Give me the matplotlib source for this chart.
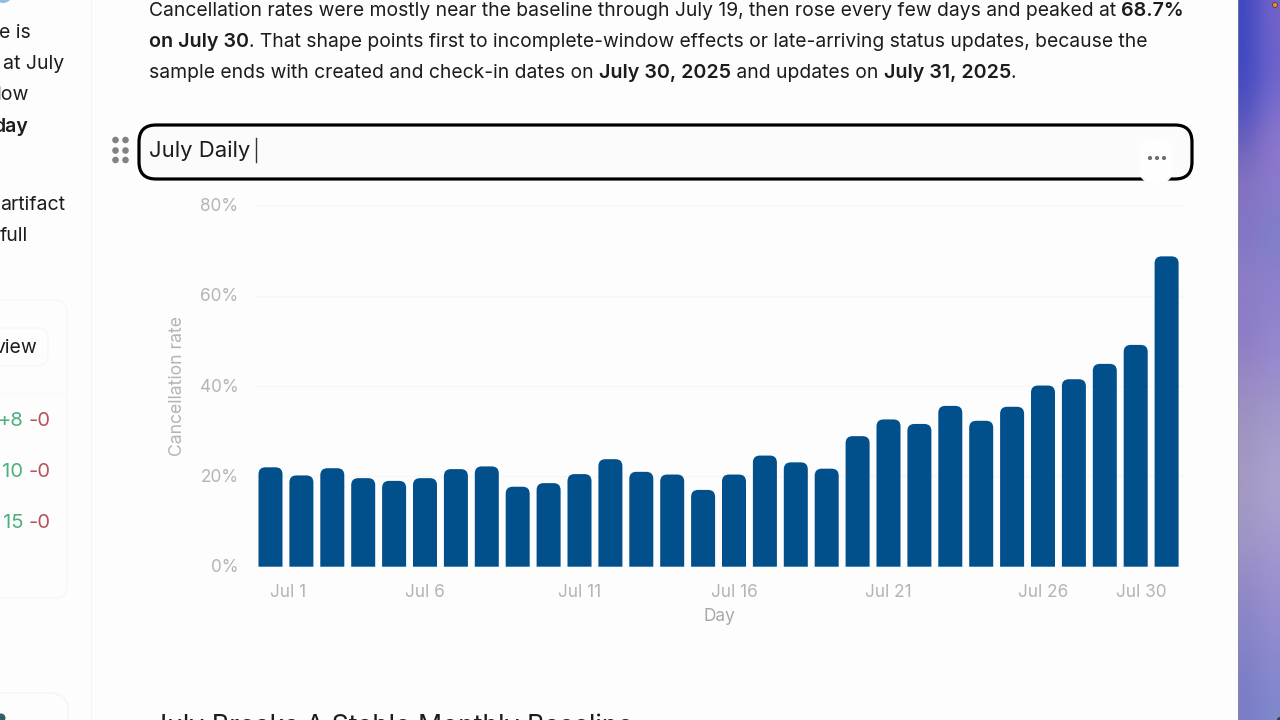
import matplotlib
matplotlib.use("Agg")
import matplotlib.pyplot as plt
import numpy as np
from matplotlib.colors import to_rgb
from matplotlib.patches import Circle, FancyBboxPatch, PathPatch, Rectangle
from matplotlib.path import Path
from matplotlib.transforms import ScaledTranslation

W, H = 1280, 720
plt.rcParams["font.family"] = ["Inter", "DejaVu Sans"]

days = list(range(1, 31))
rates = [22.0, 20.2, 21.8, 19.6, 19.0, 19.6, 21.6, 22.2, 17.7, 18.5,
         20.5, 23.8, 21.0, 20.4, 17.0, 20.4, 24.6, 23.1, 21.7, 28.9,
         32.6, 31.6, 35.6, 32.3, 35.4, 40.1, 41.5, 44.9, 49.1, 68.7]
tick_days = [1, 6, 11, 16, 21, 26, 30]
y_ticks = [0, 20, 40, 60, 80]

paragraph = [
    [("Cancellation rates were mostly near the baseline through July 19, then rose every few days and peaked at ", False), ("68.7%", True)],
    [("on July 30", True), (". That shape points first to incomplete-window effects or late-arriving status updates, because the", False)],
    [("sample ends with created and check-in dates on ", False), ("July 30, 2025", True), (" and updates on ", False), ("July 31, 2025", True), (".", False)],
]
side_lines = [("e is", -1, 33, False), ("at July", 3, 64, False), ("low", -3, 95, False),
              ("day", -7, 127, True), ("artifact", 0, 205, False), ("full", 0, 236, False)]
diff_rows = [("+8", 421), ("10", 472), ("15", 523)]

# wallpaper colours down the right strip, left and right columns
wall_left = ["#3f48c0", "#3f48c0", "#5a58bc", "#8a74c0", "#7f72c6", "#8f80c4", "#8a78c8",
             "#9a8cc0", "#a095c0", "#a49ac2", "#9f95c4", "#9088c6", "#8482c8", "#7a7cc6"]
wall_right = ["#7464cc", "#6a62cc", "#8a78cc", "#9078cc", "#7a80c8", "#9080cc", "#9484d0",
              "#9c90cc", "#a89ccc", "#aca4d0", "#a498d0", "#9a90d0", "#908ad0", "#8088cc"]


def rounded_top(x, width, height, rx, ry):
    left, right = x - width / 2, x + width / 2
    verts = [(left, 0), (left, height - ry), (left, height), (left + rx, height),
             (right - rx, height), (right, height), (right, height - ry), (right, 0), (left, 0)]
    codes = [Path.MOVETO, Path.LINETO, Path.CURVE3, Path.CURVE3,
             Path.LINETO, Path.CURVE3, Path.CURVE3, Path.LINETO, Path.CLOSEPOLY]
    return Path(verts, codes)


def draw_runs(bg, x, y, runs, size, bold_size, color):
    # bold and regular pieces of one line, placed one after the other
    rend = fig.canvas.get_renderer()
    for s, bold in runs:
        fs = bold_size if bold else size
        weight = "semibold" if bold else "normal"
        bg.text(x, y, s, fontsize=fs, color=color, va="center", ha="left", fontweight=weight)
        # trailing spaces are measured through a stand-in character
        probe = bg.text(0, 0, s.replace(" ", "\u00a0"), fontsize=fs, fontweight=weight)
        x += probe.get_window_extent(rend).width
        probe.remove()


fig = plt.figure(figsize=(W / 100, H / 100), dpi=100, facecolor="#fdfdfd")
bg = fig.add_axes([0, 0, 1, 1])
bg.set_xlim(0, W)
bg.set_ylim(H, 0)
bg.axis("off")

# wallpaper strip
strip = np.array([[to_rgb(a), to_rgb(b)] for a, b in zip(wall_left, wall_right)])
bg.imshow(strip, extent=(1238, W, H, 0), aspect="auto", interpolation="bicubic", zorder=1)
bg.set_xlim(0, W)
bg.set_ylim(H, 0)
bg.add_patch(Rectangle((1238, 0), 1, H, color="#8f8f9c", alpha=0.6, lw=0, zorder=2))
bg.add_patch(Circle((1275, 5), 2.5, fc="#e09030", ec="#604020", lw=0.6, zorder=3))
bg.add_patch(Circle((1280, 720), 3, fc="#304050", lw=0, zorder=3))
bg.add_patch(Circle((3, -7), 10, fc="#8fbfe0", lw=0, zorder=1))

# sidebar
bg.plot([91, 91], [0, H], color="#f5f5f5", lw=1, zorder=1)
bg.add_patch(FancyBboxPatch((-40, 300), 107, 298, boxstyle="round,pad=0,rounding_size=12",
                            fc="#fdfdfd", ec="#f8f8f8", lw=1.2, zorder=1))
bg.plot([0, 67], [393, 393], color="#f8f8f8", lw=1, zorder=2)
bg.add_patch(FancyBboxPatch((-40, 328), 88, 38, boxstyle="round,pad=0,rounding_size=12",
                            fc="#fdfdfd", ec="#f8f8f8", lw=1.2, zorder=2))
bg.add_patch(FancyBboxPatch((-40, 693), 108, 80, boxstyle="round,pad=0,rounding_size=18",
                            fc="#fdfdfd", ec="#f6f6f6", lw=1.2, zorder=1))
bg.add_patch(Circle((1, 718), 4.5, fc="#2f5f68", lw=0, zorder=2))
for s, x, y, bold in side_lines:
    bg.text(x, y, s, fontsize=14, color="#1c1c1e", va="center", ha="left",
            fontweight="semibold" if bold else "normal")
bg.text(-6, 348, "view", fontsize=14, color="#1c1c1e", va="center", ha="left")
for s, y in diff_rows:
    bg.text(23, y, s, fontsize=14.6, color="#4caf7d", va="center", ha="right")
    bg.text(29, y, "-0", fontsize=14.6, color="#b5545c", va="center", ha="left")

# paragraph above the chart
for line, y in zip(paragraph, [11, 42, 73]):
    draw_runs(bg, 149, y, line, 13.9, 14.2, "#1c1c1e")

# title being edited
bg.add_patch(FancyBboxPatch((139, 125), 1053, 54, boxstyle="round,pad=0,rounding_size=17",
                            fc="#fbfbfb", ec="black", lw=2.3, zorder=2))
bg.add_patch(FancyBboxPatch((1140, 140), 32, 42, boxstyle="round,pad=0,rounding_size=10",
                            fc="#fefefe", ec="none", zorder=3))
bg.text(149, 151, "July Daily", fontsize=15.9, color="#1c1c1e", va="center", ha="left", zorder=4)
bg.plot([255.5, 255.5], [138, 162], color="#333333", lw=1, zorder=4)
for x in [1150, 1157, 1164]:
    bg.add_patch(Circle((x, 158), 2.1, fc="#707070", lw=0, zorder=4))
for x in [115.5, 125.5]:
    for y in [140, 150.5, 160]:
        bg.add_patch(Circle((x, y), 3.3, fc="#828282", lw=0, zorder=4))

# next section heading, cut off by the frame
bg.text(152, 713.5, "July Breaks A Stable Monthly Baseline", fontsize=19.2, color="#1c1c1e",
        va="top", ha="left", clip_on=True)

# chart
ax = fig.add_axes([255 / W, 1 - 566.7 / H, (1184 - 255) / W, (566.7 - 205.3) / H])
ax.patch.set_alpha(0)
pitch = 30.9
ax.set_xlim((255 - 270.5) / pitch, (1184 - 270.5) / pitch)
ax.set_ylim(0, 80)
x_pos = np.arange(len(days))
bar_w = 24 / pitch
px_y = 80 / (566.7 - 205.3)
for x, v in zip(x_pos, rates):
    ax.add_patch(PathPatch(rounded_top(x, bar_w, v, 7 / pitch, 7 * px_y),
                           fc="#01508c", ec="none", zorder=3))
for s in ax.spines.values():
    s.set_visible(False)
ax.grid(axis="y", color="#f7f7f7", lw=1, zorder=0)
ax.set_axisbelow(True)
ax.set_yticks(y_ticks)
ax.set_yticklabels([f"{v}%" for v in y_ticks])
ax.set_xticks([d - 1 for d in tick_days])
ax.set_xticklabels([f"Jul {d}" for d in tick_days])
ax.tick_params(length=0, labelcolor="#b4b4b8", labelsize=12.4)
ax.tick_params(axis="y", pad=12)
ax.tick_params(axis="x", pad=12.3)
labels = ax.get_xticklabels()
labels[0].set_ha("left")
labels[-1].set_ha("right")
up = ScaledTranslation(0, 1 / 100, fig.dpi_scale_trans)
for lab in ax.get_yticklabels():
    lab.set_transform(lab.get_transform() + up)
ax.set_xlabel("Day", color="#a8a8ac", fontsize=12.4, labelpad=5.2)
ax.set_ylabel("Cancellation rate", color="#b4b4b8", fontsize=12.7, labelpad=10)

fig.savefig("out.png", dpi=100, facecolor=fig.get_facecolor())
